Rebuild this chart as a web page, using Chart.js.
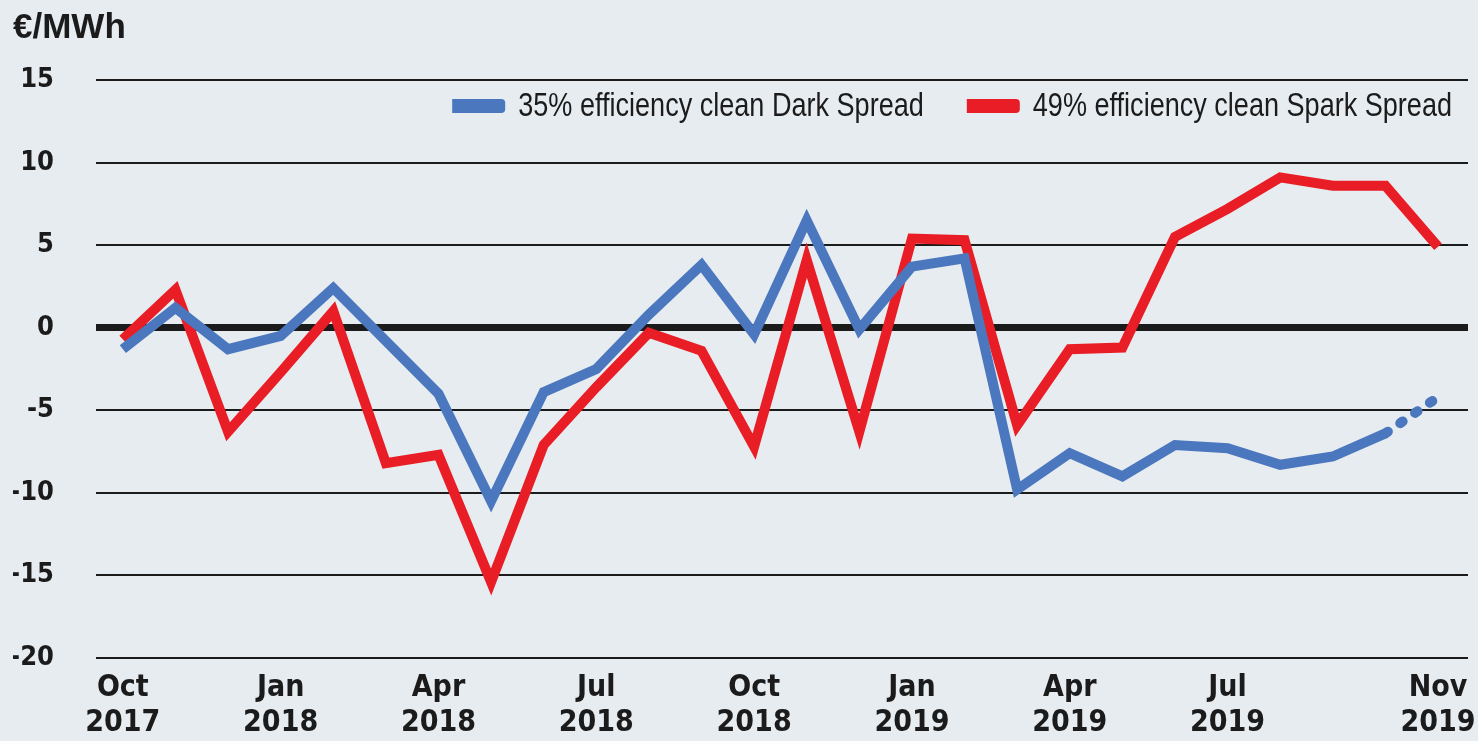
<!DOCTYPE html>
<html>
<head>
<meta charset="utf-8">
<script src="https://cdn.jsdelivr.net/npm/chart.js@4.4.1/dist/chart.umd.min.js"></script>
<style>
  html, body { margin: 0; padding: 0; background: #e7ecf0; }
  #wrap { width: 1478px; height: 741px; position: relative; }
</style>
</head>
<body>
<div id="wrap"><canvas id="myChart"></canvas></div>
<script>
// monthly values, Oct 2017 .. Nov 2019
const months = [
  'Oct 2017', 'Nov 2017', 'Dec 2017',
  'Jan 2018', 'Feb 2018', 'Mar 2018', 'Apr 2018', 'May 2018', 'Jun 2018',
  'Jul 2018', 'Aug 2018', 'Sep 2018', 'Oct 2018', 'Nov 2018', 'Dec 2018',
  'Jan 2019', 'Feb 2019', 'Mar 2019', 'Apr 2019', 'May 2019', 'Jun 2019',
  'Jul 2019', 'Aug 2019', 'Sep 2019', 'Oct 2019', 'Nov 2019'
];
const darkSpread = [-1.3, 1.2, -1.3, -0.5, 2.4, -0.8, -4.0, -10.5, -3.9, -2.5, 0.8, 3.8, -0.4,
  6.5, -0.1, 3.7, 4.2, -9.8, -7.6, -9.0, -7.1, -7.3, -8.3, -7.8, -6.4, -4.2];
const sparkSpread = [-0.7, 2.3, -6.3, -2.7, 1.0, -8.2, -7.7, -15.4, -7.1, -3.6, -0.3, -1.4, -7.2,
  4.1, -6.3, 5.4, 5.3, -5.9, -1.3, -1.2, 5.5, 7.2, 9.1, 8.6, 8.6, 4.9];
const tickMonths = [0, 3, 6, 9, 12, 15, 18, 21, 25];
const yTicks = [15, 10, 5, 0, -5, -10, -15, -20];
const forecastFrom = 24; // dark spread dotted after Oct 2019

const seriesNames = ['35% efficiency clean Dark Spread', '49% efficiency clean Spark Spread'];
const blue = '#4a77bd';
const red = '#e91d25';
const ink = '#1b1b1b';
const condensed = "'Liberation Sans Narrow', 'DejaVu Sans Condensed', sans-serif";

const toPoints = arr => arr.map((v, i) => ({x: i, y: v}));

// legend drawn inside the plot, top right; text squeezed to look condensed
const insideLegend = {
  id: 'insideLegend',
  afterDraw(chart) {
    const ctx = chart.ctx;
    const area = chart.chartArea;
    const y = area.top + 26;
    const sx = 0.82;
    ctx.save();
    ctx.font = "33px 'Liberation Sans', Arial, sans-serif";
    ctx.textBaseline = 'middle';
    ctx.textAlign = 'left';
    let x = area.right - 16;
    const sets = chart.data.datasets;
    for (let i = sets.length - 1; i >= 0; i--) {
      const w = ctx.measureText(sets[i].label).width * sx;
      x -= w;
      ctx.save();
      ctx.translate(x, y + 1);
      ctx.scale(sx, 1);
      ctx.fillStyle = ink;
      ctx.fillText(sets[i].label, 0, 0);
      ctx.restore();
      x -= 13 + 53;
      ctx.fillStyle = sets[i].borderColor;
      ctx.beginPath();
      ctx.roundRect(x, y - 7, 53, 14, [0, 4, 4, 0]);
      ctx.fill();
      x -= 43;
    }
    ctx.restore();
  }
};

const data = {
  datasets: [{
    label: seriesNames[0],
    data: toPoints(darkSpread),
    borderColor: blue,
    backgroundColor: blue,
    borderWidth: 10,
    pointRadius: 0,
    segment: {
      borderDash: c => c.p0DataIndex >= forecastFrom ? [3, 15] : undefined,
      borderCapStyle: c => c.p0DataIndex >= forecastFrom ? 'round' : undefined
    }
  }, {
    label: seriesNames[1],
    data: toPoints(sparkSpread),
    borderColor: red,
    backgroundColor: red,
    borderWidth: 10,
    pointRadius: 0
  }]
};

const config = {
  type: 'line',
  data: data,
  plugins: [insideLegend],
  options: {
    responsive: true,
    maintainAspectRatio: false,
    animation: false,
    layout: { padding: { left: 13, right: 10, top: 0, bottom: 0 } },
    plugins: {
      legend: { display: false },
      tooltip: { enabled: false },
      title: {
        display: true,
        text: '€/MWh',
        align: 'start',
        color: ink,
        font: { family: "'Liberation Sans', Arial, sans-serif", size: 35, weight: 'bold' },
        padding: { top: 7, bottom: 31 }
      }
    },
    scales: {
      x: {
        type: 'linear',
        min: -0.51,
        max: 25.57,
        afterBuildTicks: scale => { scale.ticks = tickMonths.map(v => ({value: v})); },
        afterFit: scale => {
          scale.height = 83;
          scale.paddingLeft = 0;
          scale.paddingRight = 0;
        },
        grid: { display: false, drawTicks: false },
        border: { display: false },
        ticks: {
          autoSkip: false,
          maxRotation: 0,
          padding: 13,
          color: ink,
          font: { family: condensed, size: 30, weight: 'bold', lineHeight: 1.17 },
          callback: value => months[value].split(' ')
        }
      },
      y: {
        min: -20,
        max: 15,
        afterBuildTicks: scale => { scale.ticks = yTicks.map(v => ({value: v})); },
        afterFit: scale => { scale.width = 83; },
        grid: {
          color: ink,
          lineWidth: c => c.tick && c.tick.value === 0 ? 7 : 2,
          drawTicks: false
        },
        border: { display: false },
        ticks: {
          padding: 42,
          color: ink,
          font: { family: condensed, size: 27, weight: 'bold' }
        }
      }
    }
  }
};

document.addEventListener('DOMContentLoaded', () => {
  const myChart = new Chart(document.getElementById('myChart'), config);
});
</script>
</body>
</html>
